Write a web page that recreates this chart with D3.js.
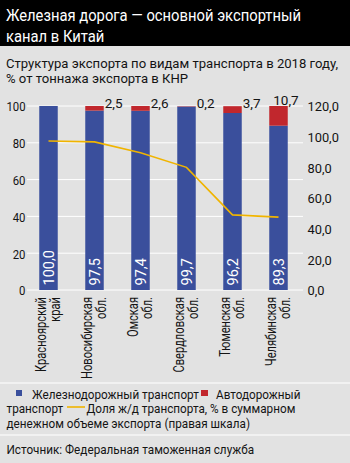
<!DOCTYPE html>
<html>
<head>
<meta charset="utf-8">
<script src="https://cdn.jsdelivr.net/npm/d3@7/dist/d3.min.js"></script>
<style>
  html, body { margin: 0; padding: 0; background: #e2e2e2; }
  svg { display: block; }
  text { font-family: Roboto, "Liberation Sans", sans-serif; }
</style>
</head>
<body>
<svg id="chart" width="350" height="463"></svg>
<script>
// ---- data ----
const categories = [
  ["Красноярский", "край"],
  ["Новосибирская", "обл."],
  ["Омская", "обл."],
  ["Свердловская", "обл."],
  ["Тюменская", "обл."],
  ["Челябинская", "обл."]
];
const railShare = [100.0, 97.5, 97.4, 99.7, 96.2, 89.3];
const roadShare = [0, 2.5, 2.6, 0.2, 3.7, 10.7];
const railMoneyShare = [97.2, 96.6, 89.5, 80.0, 49.0, 47.5];
const leftTicks = [0, 20, 40, 60, 80, 100];
const rightTicks = [0, 20, 40, 60, 80, 100, 120];

const titleLines = ["Железная дорога — основной экспортный", "канал в Китай"];
const subtitleLines = ["Структура экспорта по видам транспорта в 2018 году,", "% от тоннажа экспорта в КНР"];
const legendRail = "Железнодорожный транспорт";
const legendRoad1 = "Автодорожный";
const legendRoad2 = "транспорт";
const legendLine1 = "Доля ж/д транспорта, % в суммарном";
const legendLine2 = "денежном объеме экспорта (правая шкала)";
const sourceText = "Источник: Федеральная таможенная служба";

const fmt = v => d3.format(".1f")(v).replace(".", ",");
const C = { blue: "#3a4f9c", red: "#c1272d", yellow: "#f0b400", bg: "#e2e2e2", grid: "#ffffff", ink: "#141414" };

// squeeze text horizontally (condensed face imitation)
function squeeze(sel, factor) {
  sel.each(function () {
    const w = this.getComputedTextLength();
    d3.select(this).attr("textLength", w * factor).attr("lengthAdjust", "spacingAndGlyphs");
  });
}
function factorFor(node, target) { return target / node.getComputedTextLength(); }

const svg = d3.select("#chart");
const keys = categories.map(c => c.join(" "));
const rows = keys.map((k, i) => ({ key: k, lines: categories[i], rail: railShare[i], road: roadShare[i], money: railMoneyShare[i] }));

// backgrounds
svg.append("rect").attr("x", 0).attr("y", 0).attr("width", 350).attr("height", 463).attr("fill", C.bg);
svg.append("rect").attr("x", 0).attr("y", 0).attr("width", 350).attr("height", 46).attr("fill", "#000");

// title
const tt = svg.append("text").attr("fill", "#fff").attr("font-size", 17);
titleLines.forEach((t, i) => tt.append("tspan").attr("x", 6).attr("y", 21 + i * 21).text(t));
const fT = factorFor(tt.select("tspan").node(), 295);
squeeze(tt.selectAll("tspan"), fT);

const st = svg.append("text").attr("fill", C.ink).attr("font-size", 13.5);
subtitleLines.forEach((t, i) => st.append("tspan").attr("x", 6).attr("y", 68 + i * 15).text(t));
const fS = factorFor(st.select("tspan").node(), 332);
squeeze(st.selectAll("tspan"), fS);

// scales
const x = d3.scaleBand().domain(keys).range([25.5, 301.5]).paddingInner(0.598).paddingOuter(0.299);
const yL = d3.scaleLinear().domain([0, 100]).range([290, 106]);
const yR = d3.scaleLinear().domain([0, 120]).range([290, 106]);

// gridlines
svg.append("g").selectAll("line").data(leftTicks).join("line")
  .attr("x1", 27).attr("x2", 303)
  .attr("y1", d => yL(d)).attr("y2", d => yL(d))
  .attr("stroke", C.grid).attr("stroke-width", 1);

// left axis
const axL = d3.axisLeft(yL).tickValues(leftTicks).tickSize(0).tickPadding(0).tickFormat(d3.format("d"));
const gL = svg.append("g").attr("transform", "translate(25.5,0)").call(axL);
gL.select(".domain").remove();
gL.selectAll("text").attr("font-size", 13.5).attr("fill", C.ink).attr("font-family", null).attr("dy", "0.36em");
squeeze(gL.selectAll("text"), 0.84);

// right axis
const axR = d3.axisRight(yR).tickValues(rightTicks).tickSize(0).tickPadding(0).tickFormat(fmt);
const gR = svg.append("g").attr("transform", "translate(307.5,0)").call(axR);
gR.select(".domain").remove();
gR.selectAll("text").attr("font-size", 13.5).attr("fill", C.ink).attr("font-family", null).attr("dy", "0.36em");
squeeze(gR.selectAll("text"), 0.95);

// bars
svg.append("g").selectAll("rect").data(rows).join("rect")
  .attr("x", d => x(d.key)).attr("width", x.bandwidth())
  .attr("y", d => yL(d.rail)).attr("height", d => yL(0) - yL(d.rail))
  .attr("fill", C.blue);
svg.append("g").selectAll("rect").data(rows.filter(d => d.road > 0)).join("rect")
  .attr("x", d => x(d.key)).attr("width", x.bandwidth())
  .attr("y", d => yL(d.rail + d.road)).attr("height", d => yL(d.rail) - yL(d.rail + d.road))
  .attr("fill", C.red);

// inside labels
svg.append("g").selectAll("text").data(rows).join("text")
  .attr("transform", d => `translate(${x(d.key) + x.bandwidth() / 2},${yL(0) - 4.5}) rotate(-90)`)
  .attr("y", 5.2).attr("fill", "#fff").attr("font-size", 14.5)
  .text(d => fmt(d.rail));

// top labels (road)
svg.append("g").selectAll("text").data(rows.filter(d => d.road > 0)).join("text")
  .attr("x", d => d.road > 10 ? x(d.key) + 4 : x(d.key) + x.bandwidth() + 1)
  .attr("y", d => d.road > 10 ? yL(100) - 1 : yL(100) + 2)
  .attr("fill", C.ink).attr("font-size", 13.5)
  .text(d => fmt(d.road));

// line
const line = d3.line().x(d => x(d.key) + x.bandwidth() / 2).y(d => yR(d.money));
svg.append("path").datum(rows).attr("d", line)
  .attr("fill", "none").attr("stroke", C.yellow).attr("stroke-width", 1.6);

// category labels
const cl = svg.append("g").selectAll("text").data(rows).join("text")
  .attr("transform", d => `translate(${x(d.key) + x.bandwidth() / 2},297) rotate(-90)`)
  .attr("text-anchor", "end").attr("fill", C.ink).attr("font-size", 14.5);
cl.append("tspan").attr("x", 0).attr("y", -2.5).text(d => d.lines[0]);
cl.append("tspan").attr("x", 0).attr("y", 11.5).text(d => d.lines[1]);
const fC = factorFor(cl.filter((d, i) => i === 1).select("tspan").node(), 82);
squeeze(cl.selectAll("tspan"), fC);

// separators
[383, 435].forEach(yy => svg.append("line").attr("x1", 0).attr("x2", 350).attr("y1", yy).attr("y2", yy).attr("stroke", "#fff").attr("stroke-width", 1.2));

// legend
const lg = svg.append("g");
lg.append("rect").attr("x", 16).attr("y", 390).attr("width", 6).attr("height", 6).attr("fill", C.blue);
lg.append("rect").attr("x", 201).attr("y", 390).attr("width", 7).attr("height", 6).attr("fill", C.red);
lg.append("line").attr("x1", 67).attr("x2", 85).attr("y1", 407).attr("y2", 407).attr("stroke", C.yellow).attr("stroke-width", 1.6);
const lt = [
  [32, 398.5, legendRail],
  [216, 398.5, legendRoad1],
  [6.5, 413, legendRoad2],
  [86.5, 413, legendLine1],
  [6.5, 428, legendLine2],
  [6.5, 454, sourceText]
];
const ltx = lg.selectAll("text.l").data(lt).join("text")
  .attr("x", d => d[0]).attr("y", d => d[1])
  .attr("font-size", 13.5).attr("fill", C.ink).text(d => d[2]);
const fL = factorFor(ltx.filter((d, i) => i === 4).node(), 243.5);
squeeze(ltx, fL);
</script>
</body>
</html>
